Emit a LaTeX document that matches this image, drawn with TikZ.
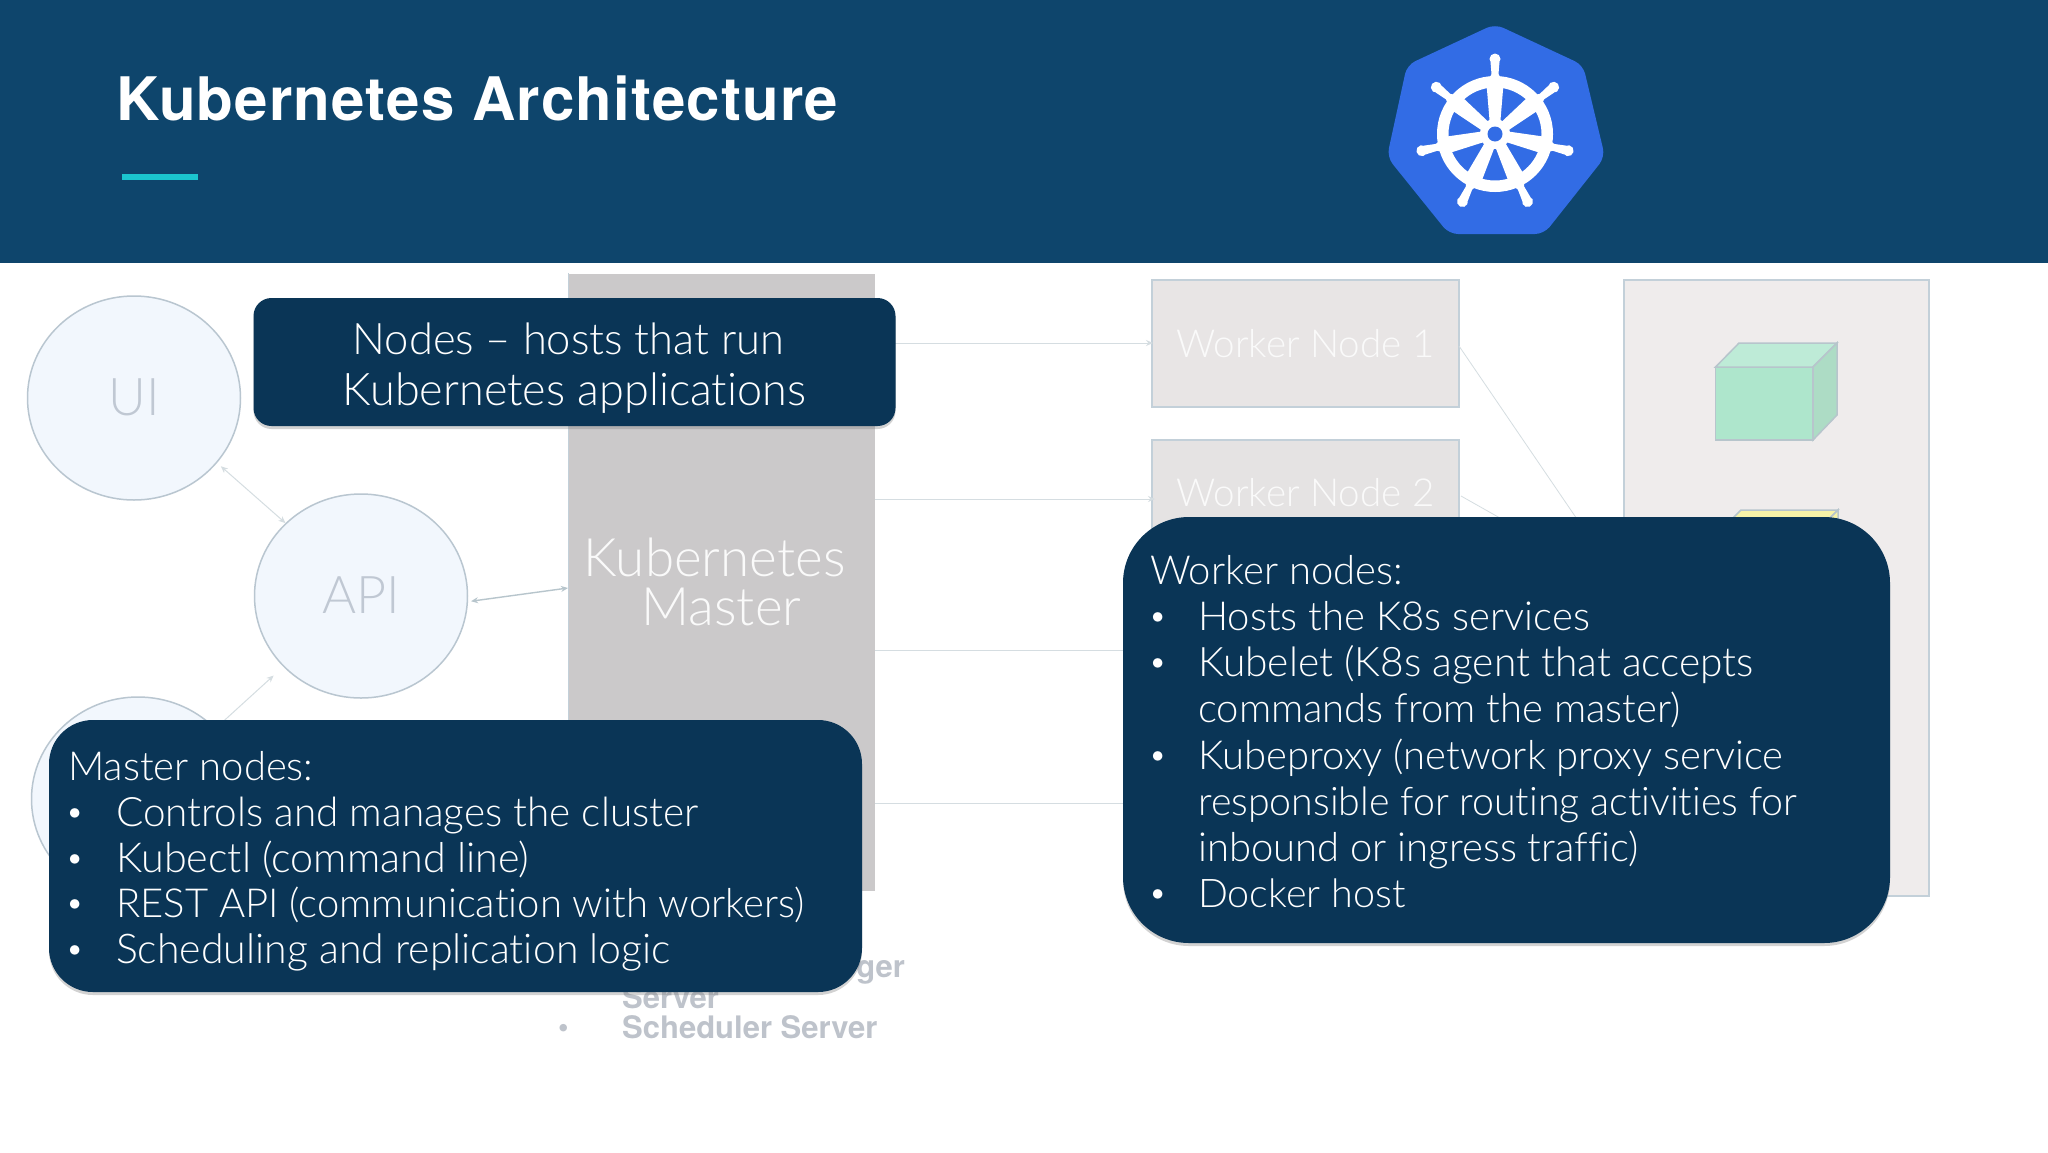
\documentclass[tikz,border=0pt]{standalone}
\usepackage{fontspec}
\setmainfont{TeX Gyre Heros}
\newfontfamily\titlefont[LetterSpace=1.9]{TeX Gyre Heros}
\newfontfamily\lf[Ligatures=NoCommon]{Lato Light}
\usetikzlibrary{shapes.geometric,arrows.meta,shadows}
\definecolor{headblue}{HTML}{0E456C}
\definecolor{accent}{HTML}{1BC5CF}
\definecolor{kblue}{HTML}{326CE5}
\definecolor{boxblue}{HTML}{0A3556}
\definecolor{edgec}{HTML}{C3D0D9}
\definecolor{linec}{HTML}{D5DDE1}
\definecolor{darkline}{HTML}{B7C5CC}
\definecolor{ghost}{HTML}{BEC3CB}
\definecolor{circtext}{HTML}{C0C8D3}
\definecolor{circfill}{HTML}{F2F7FD}
\definecolor{circedge}{HTML}{B9C6D0}
\definecolor{masterc}{HTML}{CBC9CA}
\definecolor{wa}{HTML}{E8E5E5}
\definecolor{wb}{HTML}{E5E3E3}
\definecolor{panelc}{HTML}{EFECEC}
\definecolor{gfront}{HTML}{AEE6CC}
\definecolor{gtop}{HTML}{BEEBD7}
\definecolor{gside}{HTML}{ADDCC5}
\definecolor{ytop}{HTML}{F6F3A8}
\tikzset{
  x=1pt,y=-1pt,
  circ/.style={ellipse,draw=circedge,line width=1.5pt,fill=circfill,minimum width=213pt,minimum height=204pt,inner sep=0pt,text=circtext,font=\lf\fontsize{52}{60}\selectfont},
  wnode/.style={rectangle,draw=edgec,line width=1.6pt,fill=#1,minimum width=307pt,inner sep=0pt,text=white!96!gray,font=\lf\fontsize{38.6}{46}\selectfont},
  conn/.style={draw=linec,line width=1pt},
  arr/.style={conn,-{Stealth[length=7pt,width=6pt]}},
  biarr/.style={conn,{Stealth[length=7pt,width=6pt]}-{Stealth[length=7pt,width=6pt]}},
  callout/.style={rectangle,fill=boxblue,inner sep=0pt,drop shadow={shadow xshift=0pt,shadow yshift=-3pt,opacity=.35,fill=gray}},
  ltext/.style={anchor=base west,inner sep=0pt,text=white,font=\lf\fontsize{#1}{46}\selectfont},
  ltext/.default=40,
  bullet/.style={anchor=base west,inner sep=0pt,text=white,font=\fontsize{38}{46}\selectfont},
  gtext/.style={anchor=base west,inner sep=0pt,text=ghost,font=\bfseries\fontsize{31}{36}\selectfont},
}
\begin{document}
\begin{tikzpicture}
\useasboundingbox (0,0) rectangle (2048,1152);
\fill[white] (0,0) rectangle (2048,1152);
% ---- header
\fill[headblue] (0,0) rectangle (2048,263);
\node[anchor=base west,inner sep=0pt,text=white,font=\titlefont\bfseries\fontsize{60}{70}\selectfont] (title) at (116,120) {Kubernetes Architecture};
\fill[accent] (122,174) rectangle (198,180);
% ---- logo
\fill[kblue,rounded corners=9pt] (1495,24) -- (1583,65) -- (1605,157) -- (1544,234) -- (1449,234) -- (1387,157) -- (1407,65) -- cycle;
\begin{scope}[shift={(1495,134)}]
  \fill[white,even odd rule] (0,0) circle[radius=58] (0,0) circle[radius=46.5];
  \foreach \a in {90,141.43,192.86,244.29,295.71,347.14,38.57}{
    \begin{scope}[rotate=\a]
      \fill[white] (8,-5) -- (50,-8.5) -- (60,-3.5) -- (72,-4.5) -- (75,0) -- (72,4.5) -- (60,3.5) -- (50,8.5) -- (8,5) -- cycle;
      \fill[white] (75,0) circle[radius=5.5];
    \end{scope}
  }
  \fill[white] (0,0) circle[radius=15];
  \fill[kblue] (0,0) circle[radius=7.5];
\end{scope}
% ---- left circles
\node[circ] (ui) at (134,398) {\raisebox{1pt}{UI}};
\node[circ] (api) at (361,596) {\raisebox{1pt}{API}};
\node[circ] (ctrl) at (138,799) {};
% ---- master
\node[rectangle,draw=none,fill=masterc,minimum width=306.5pt,minimum height=617pt,inner sep=0pt,align=center,text=white!96!gray,font=\lf\fontsize{53}{49}\selectfont] (master) at (721.5,582) {Kubernetes\hspace*{14pt}\\Master};
\draw[edgec,line width=1pt] (master.north west) -- (master.south west);
% ---- worker nodes and panel
\node[wnode=wa,minimum height=127pt] (wn1) at (1305.5,343.5) {\raisebox{1pt}{Worker Node 1}};
\node[wnode=wb,minimum height=106pt] (wn2) at (1305.5,493) {Worker Node 2};
\node[rectangle,draw=edgec,line width=1.6pt,fill=panelc,minimum width=305pt,minimum height=616pt,inner sep=0pt] (panel) at (1776.5,588) {};
% ---- cubes
\filldraw[draw=darkline,line width=1.5pt,fill=gfront] (1715.5,367) rectangle (1813,440);
\filldraw[draw=darkline,line width=1.5pt,fill=gtop] (1715.5,367) -- (1739,343) -- (1837,343) -- (1813,367) -- cycle;
\filldraw[draw=darkline,line width=1.5pt,fill=gside] (1813,367) -- (1837,343) -- (1837,415) -- (1813,440) -- cycle;
\filldraw[draw=darkline,line width=1.5pt,fill=ytop] (1717,534) -- (1741,510) -- (1838,510) -- (1814,534) -- cycle;
\filldraw[draw=darkline,line width=1.5pt,fill=ytop] (1814,534) -- (1838,510) -- (1838,582) -- (1814,607) -- cycle;
% ---- connectors
\coordinate (m1) at (875,343);
\coordinate (m2) at (875,499);
\coordinate (m3) at (875,650);
\coordinate (m4) at (875,803);
\coordinate (e1) at (1153,343);
\coordinate (e2) at (1155,499);
\coordinate (e3) at (1150,650);
\coordinate (e4) at (1150,803);
\coordinate (mEntry) at (568,588);
\coordinate (wa1) at (1459,346);
\coordinate (wb1) at (1461,496);
\coordinate (pa) at (1624,588);
\draw[arr] (m1) -- (e1);
\draw[arr] (m2) -- (e2);
\draw[conn] (m3) -- (e3);
\draw[conn] (m4) -- (e4);
\draw[conn,line width=.8pt] (wa1) -- (pa);
\draw[conn,line width=.8pt] (wb1) -- (pa);
\draw[biarr,shorten <=5pt] (ui.322) -- (api.136);
\draw[biarr,darkline,line width=1.4pt,shorten <=3pt] (api.357) -- (mEntry);
\draw[arr,shorten >=13pt] (ctrl) -- (api);
% ---- ghost text behind the master callout
\node[gtext,anchor=base east] (g1) at (905,977) {ger};
\node[gtext] (g2) at (622,1008) {Server};
\node[gtext] (g3) at (622,1038) {Scheduler Server};
\node[gtext,font=\fontsize{30}{36}\selectfont] (g0) at (558,1038) {•};
% ---- callouts
\node[callout,rounded corners=18pt,minimum width=642pt,minimum height=128pt] (hosts) at (574.5,362) {};
\node[inner sep=0pt,align=center,text=white,font=\lf\fontsize{45}{51}\selectfont] (hoststext) at (574.5,368) {{\fontsize{43.5}{51}\selectfont Nodes – hosts that run}\hspace*{12pt}\\Kubernetes applications};
\node[callout,rounded corners=44pt,minimum width=813pt,minimum height=272pt] (mbox) at (455.5,856) {};
\node[ltext] (mh) at (68,780) {Master nodes:};
\node[bullet] (mb1) at (68,826) {•}; \node[ltext=40.5] (mt1) at (116,826) {Controls and manages the cluster};
\node[bullet] (mb2) at (68,872) {•}; \node[ltext=41.3] (mt2) at (116,872) {Kubectl (command line)};
\node[bullet] (mb3) at (68,917) {•}; \node[ltext] (mt3) at (116,917) {REST API (communication with workers)};
\node[bullet] (mb4) at (68,963) {•}; \node[ltext=41] (mt4) at (116,963) {Scheduling and replication logic};
\node[callout,rounded corners=66pt,minimum width=767pt,minimum height=426pt] (wbox) at (1506.5,730) {};
\node[ltext] (wh) at (1150,584) {Worker nodes:};
\node[bullet] (wb1a) at (1151,630) {•}; \node[ltext] (wt1) at (1198,630) {Hosts the K8s services};
\node[bullet] (wb2) at (1151,676) {•}; \node[ltext=40.7] (wt2) at (1198,676) {Kubelet (K8s agent that accepts};
\node[ltext] (wt2b) at (1198,722) {commands from the master)};
\node[bullet] (wb3) at (1151,769) {•}; \node[ltext] (wt3) at (1198,769) {Kubeproxy (network proxy service};
\node[ltext=39.3] (wt3b) at (1198,815) {responsible for routing activities for};
\node[ltext] (wt3c) at (1198,861) {inbound or ingress traffic)};
\node[bullet] (wb4) at (1151,907) {•}; \node[ltext=39.5] (wt4) at (1198,907) {Docker host};
\end{tikzpicture}
\end{document}
